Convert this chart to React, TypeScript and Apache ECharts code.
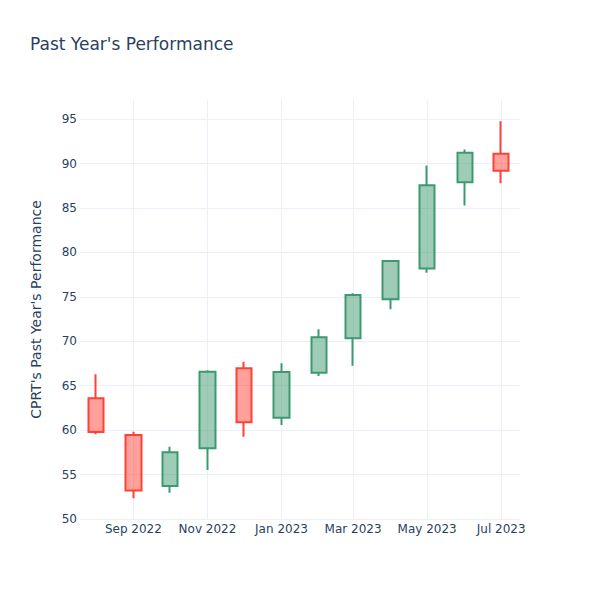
import React, { useEffect, useRef } from "react";
import * as echarts from "echarts";

const months: string[] = [
  "2022-08-01", "2022-09-01", "2022-10-01", "2022-11-01", "2022-12-01", "2023-01-01",
  "2023-02-01", "2023-03-01", "2023-04-01", "2023-05-01", "2023-06-01", "2023-07-01",
];
const openValues: number[] = [63.6, 59.45, 53.7, 57.95, 66.95, 61.4, 66.46, 70.33, 74.72, 78.2, 87.9, 91.1];
const closeValues: number[] = [59.8, 53.2, 57.5, 66.57, 60.9, 66.54, 70.44, 75.2, 79.02, 87.57, 91.2, 89.2];
const lowValues: number[] = [59.53, 52.33, 52.96, 55.51, 59.26, 60.58, 66.09, 67.25, 73.6, 77.71, 85.29, 87.77];
const highValues: number[] = [66.28, 59.82, 58.13, 66.73, 67.7, 67.52, 71.34, 75.39, 79.1, 89.79, 91.59, 94.77];
const monthNames: string[] = ["Jan", "Feb", "Mar", "Apr", "May", "Jun", "Jul", "Aug", "Sep", "Oct", "Nov", "Dec"];

const FONT = "'DejaVu Sans', Verdana, sans-serif";
const TEXT = "#2a3f5f";
const GRID = "#ebf0f8";

export default function App() {
  const ref = useRef<HTMLDivElement>(null);
  useEffect(() => {
    if (!ref.current) return;
    const chart = echarts.init(ref.current, null, { renderer: "svg" });
    const data = months.map((m, i) => [m, openValues[i], closeValues[i], lowValues[i], highValues[i]]);
    chart.setOption({
      animation: false,
      backgroundColor: "#ffffff",
      textStyle: { fontFamily: FONT },
      title: {
        text: "Past Year's Performance",
        left: 30,
        top: 35,
        padding: 0,
        textStyle: { fontFamily: FONT, fontSize: 17, fontWeight: "normal", color: TEXT },
      },
      grid: { left: 80, right: 80, top: 100, bottom: 81, containLabel: false },
      xAxis: {
        type: "time",
        min: "2022-07-19",
        max: "2023-07-16 12:00:00",
        axisLine: { show: false },
        axisTick: { show: false },
        axisLabel: {
          fontFamily: FONT,
          fontSize: 12,
          color: TEXT,
          margin: 4,
          hideOverlap: false,
          formatter: (val: number) => {
            const d = new Date(val);
            if (d.getDate() !== 1 || d.getHours() !== 0) return "";
            return monthNames[d.getMonth()] + " " + d.getFullYear();
          },
        },
        splitLine: { show: true, showMinLine: false, showMaxLine: false, lineStyle: { color: GRID, width: 1 } },
      },
      yAxis: {
        type: "value",
        min: 50,
        max: 97.15,
        interval: 5,
        name: "CPRT's Past Year's Performance",
        nameLocation: "middle",
        nameGap: 37,
        nameTextStyle: { fontFamily: FONT, fontSize: 14, color: TEXT },
        axisLine: { show: false },
        axisTick: { show: false },
        axisLabel: { fontFamily: FONT, fontSize: 12, color: TEXT, margin: 3, showMaxLabel: false },
        splitLine: { show: true, showMaxLine: false, lineStyle: { color: GRID, width: 1 } },
      },
      series: [
        {
          type: "candlestick",
          data,
          encode: { x: 0, y: [1, 2, 3, 4] },
          barWidth: 16,
          itemStyle: {
            color: "rgba(61,153,112,0.5)",
            color0: "rgba(255,65,54,0.5)",
            borderColor: "#3D9970",
            borderColor0: "#FF4136",
            borderWidth: 2,
          },
        },
      ],
    });
    return () => chart.dispose();
  }, []);
  return <div ref={ref} style={{ width: 600, height: 600, position: "absolute", left: 0, top: 0 }} />;
}
